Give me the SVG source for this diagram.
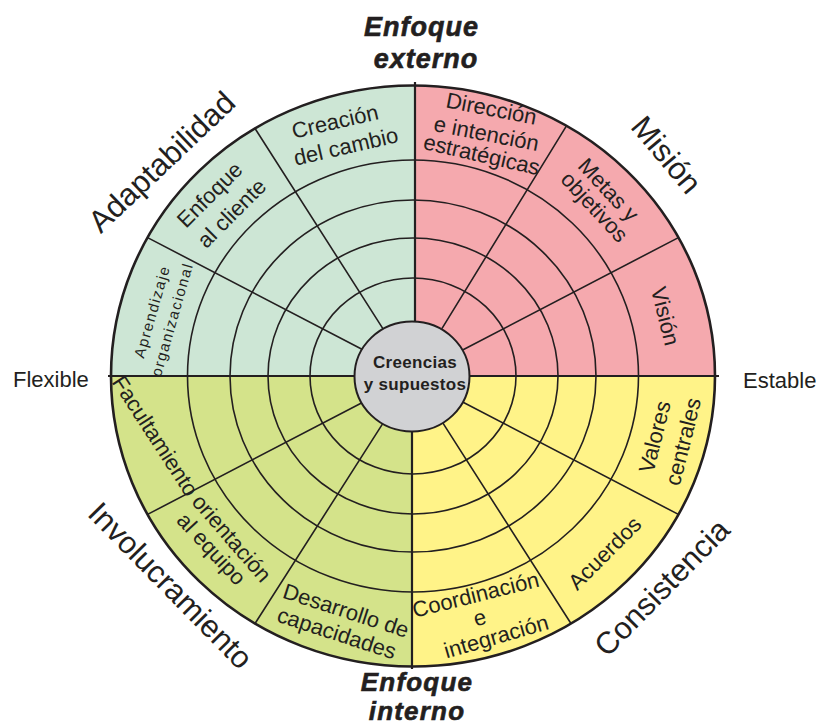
<svg xmlns="http://www.w3.org/2000/svg" width="823" height="726" viewBox="0 0 823 726">
<style>
text{font-family:"Liberation Sans",Arial,sans-serif;fill:#231f20}
.lbl{font-size:22px;text-anchor:middle}
.big{font-size:31px;text-anchor:middle}
.axis{font-size:22px}
.ttl{font-size:27px;font-weight:bold;font-style:italic;letter-spacing:1px;text-anchor:middle;stroke:#231f20;stroke-width:0.6}
.ttl2{font-size:26px;font-weight:bold;font-style:italic;letter-spacing:1.2px;text-anchor:middle;stroke:#231f20;stroke-width:0.6}
.ctr{font-size:17px;font-weight:bold;letter-spacing:0.3px;text-anchor:middle}
.sm{font-size:15px;letter-spacing:1.5px;text-anchor:middle}
.ring{fill:none;stroke:#231f20;stroke-width:1.6}
.div{stroke:#231f20;stroke-width:1.6;fill:none}
.ax{stroke:#231f20;stroke-width:2.2;fill:none}
.outer{fill:none;stroke:#231f20;stroke-width:2.6}
</style>
<rect width="823" height="726" fill="#ffffff"/>
<g id="quadrants">
  <path id="q-adaptabilidad" d="M415,376 L415,85 A302,290.5 0 0 0 111,376 Z" fill="#cde6d5"/>
  <path id="q-mision" d="M415,376 L415,85 A302,290.5 0 0 1 715,376 Z" fill="#f5a9ae"/>
  <path id="q-consistencia" d="M412,376 L715,376 A302,290.5 0 0 1 412,666.5 Z" fill="#fff388"/>
  <path id="q-involucramiento" d="M412,376 L412,666.5 A302,290.5 0 0 1 111,376 Z" fill="#d4e38a"/>
</g>
<g id="connectors">
  <ellipse class="ring" cx="413" cy="376" rx="103" ry="98"/>
  <ellipse class="ring" cx="413" cy="376" rx="145" ry="138"/>
  <ellipse class="ring" cx="413" cy="376" rx="183" ry="176"/>
  <ellipse class="ring" cx="413" cy="376" rx="225.5" ry="216"/>
  <path class="div" d="M463.1,349.8 L678.4,237.6 M441.9,328.6 L566.3,126.1 M362.9,349.8 L147.6,237.6 M383.2,329.1 L255.2,128.7 M362.9,402.2 L147.6,514.4 M383.2,422.9 L255.2,623.3 M463.1,402.2 L678.4,514.4 M442.8,422.9 L570.8,623.3"/>
  <path class="ax" d="M108,376 H719 M415,82 V330 M412,425 V669"/>
  <ellipse class="outer" cx="413" cy="376" rx="302" ry="290.5"/>
</g>
<g id="center">
  <ellipse cx="412" cy="376.5" rx="57.5" ry="55" fill="#d1d2d4" stroke="#231f20" stroke-width="2"/>
  <text class="ctr" x="415" y="368.3">Creencias</text>
  <text class="ctr" x="415" y="390">y supuestos</text>
</g>
<g id="axis-labels">
  <text class="ttl" x="421.5" y="35.5">Enfoque</text>
  <text class="ttl" x="426" y="68">externo</text>
  <text class="ttl2" x="417" y="691">Enfoque</text>
  <text class="ttl2" x="417" y="720">interno</text>
  <text class="axis" x="13" y="387">Flexible</text>
  <text class="axis" x="743" y="388">Estable</text>
</g>
<g id="traits">
  <text class="big" transform="translate(169,169.6) rotate(-43.5)">Adaptabilidad</text>
  <text class="big" transform="translate(658.3,161.6) rotate(50)">Misión</text>
  <text class="big" transform="translate(163,593) rotate(45.5)">Involucramiento</text>
  <text class="big" transform="translate(669.4,595) rotate(-45.5)">Consistencia</text>
</g>
<g id="s-creacion">
  <text class="lbl" transform="translate(336.7,128.8) rotate(-13)">Creación</text>
  <text class="lbl" transform="translate(347.5,153.8) rotate(-13)">del cambio</text>
</g>
<g id="s-enfoque-cliente">
  <text class="lbl" transform="translate(215,200) rotate(-45)">Enfoque</text>
  <text class="lbl" transform="translate(237,218.5) rotate(-45)">al cliente</text>
</g>
<g id="s-aprendizaje">
  <text class="sm" transform="translate(157,313) rotate(-74)">Aprendizaje</text>
  <text class="sm" transform="translate(177,321) rotate(-74)">organizacional</text>
</g>
<g id="s-direccion">
  <text class="lbl" transform="translate(490,116) rotate(11)">Dirección</text>
  <text class="lbl" transform="translate(485,141) rotate(11)">e intención</text>
  <text class="lbl" transform="translate(480,162) rotate(13)">estratégicas</text>
</g>
<g id="s-metas">
  <text class="lbl" transform="translate(603,195) rotate(47)">Metas y</text>
  <text class="lbl" transform="translate(589,212) rotate(47)">objetivos</text>
</g>
<g id="s-vision">
  <text class="lbl" transform="translate(658,318) rotate(76)">Visión</text>
</g>
<g id="s-facultamiento">
  <text class="lbl" transform="translate(149,440) rotate(57)">Facultamiento</text>
</g>
<g id="s-orientacion">
  <text class="lbl" transform="translate(226,543) rotate(49)">orientación</text>
  <text class="lbl" transform="translate(206,554) rotate(47)">al equipo</text>
</g>
<g id="s-desarrollo">
  <text class="lbl" transform="translate(343.7,617.7) rotate(18)">Desarrollo de</text>
  <text class="lbl" transform="translate(334.4,640.3) rotate(18)">capacidades</text>
</g>
<g id="s-coordinacion">
  <text class="lbl" transform="translate(477.5,602) rotate(-14)">Coordinación</text>
  <text class="lbl" transform="translate(481.7,625) rotate(-15)">e</text>
  <text class="lbl" transform="translate(498.3,643.7) rotate(-16)">integración</text>
</g>
<g id="s-acuerdos">
  <text class="lbl" transform="translate(610,558.5) rotate(-45)">Acuerdos</text>
</g>
<g id="s-valores">
  <text class="lbl" transform="translate(662,438.5) rotate(-76)">Valores</text>
  <text class="lbl" transform="translate(690.4,443.5) rotate(-76)">centrales</text>
</g>
</svg>
